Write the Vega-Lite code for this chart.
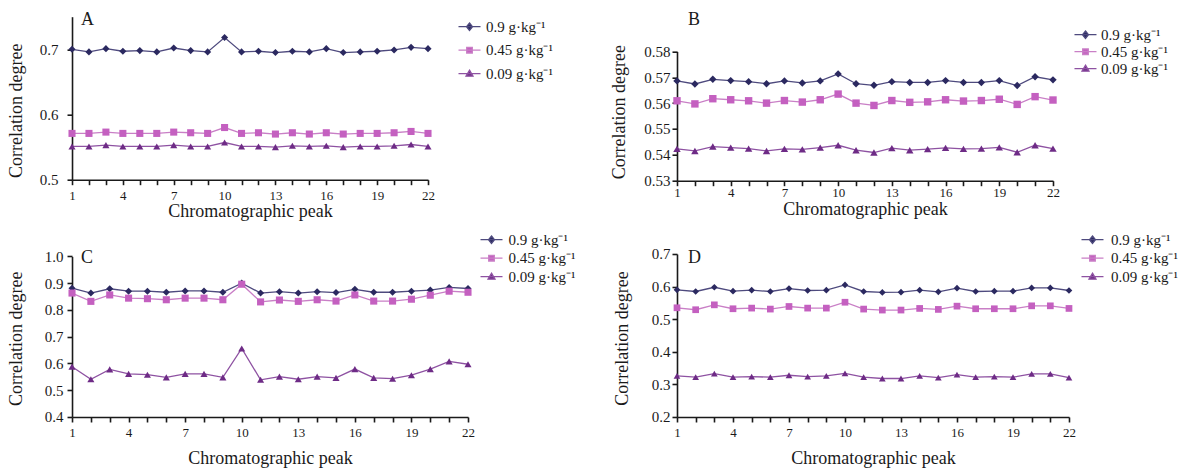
{
"$schema": "https://vega.github.io/schema/vega-lite/v6.json",
"padding": {"left": 6, "top": 10.7, "right": 0, "bottom": 0},
"data": {"values": [
{"panel":"A","peak":1,"high":0.700,"mid":0.571,"low":0.551},
{"panel":"A","peak":2,"high":0.696,"mid":0.571,"low":0.551},
{"panel":"A","peak":3,"high":0.701,"mid":0.573,"low":0.553},
{"panel":"A","peak":4,"high":0.697,"mid":0.571,"low":0.551},
{"panel":"A","peak":5,"high":0.698,"mid":0.571,"low":0.551},
{"panel":"A","peak":6,"high":0.696,"mid":0.571,"low":0.551},
{"panel":"A","peak":7,"high":0.702,"mid":0.573,"low":0.553},
{"panel":"A","peak":8,"high":0.698,"mid":0.572,"low":0.551},
{"panel":"A","peak":9,"high":0.696,"mid":0.571,"low":0.551},
{"panel":"A","peak":10,"high":0.718,"mid":0.580,"low":0.557},
{"panel":"A","peak":11,"high":0.696,"mid":0.571,"low":0.551},
{"panel":"A","peak":12,"high":0.697,"mid":0.572,"low":0.551},
{"panel":"A","peak":13,"high":0.695,"mid":0.570,"low":0.550},
{"panel":"A","peak":14,"high":0.697,"mid":0.572,"low":0.552},
{"panel":"A","peak":15,"high":0.696,"mid":0.570,"low":0.551},
{"panel":"A","peak":16,"high":0.701,"mid":0.572,"low":0.552},
{"panel":"A","peak":17,"high":0.695,"mid":0.570,"low":0.550},
{"panel":"A","peak":18,"high":0.696,"mid":0.571,"low":0.551},
{"panel":"A","peak":19,"high":0.697,"mid":0.571,"low":0.551},
{"panel":"A","peak":20,"high":0.699,"mid":0.572,"low":0.552},
{"panel":"A","peak":21,"high":0.703,"mid":0.574,"low":0.554},
{"panel":"A","peak":22,"high":0.701,"mid":0.571,"low":0.551},
{"panel":"B","peak":1,"high":0.5686,"mid":0.5609,"low":0.5423},
{"panel":"B","peak":2,"high":0.5674,"mid":0.5597,"low":0.5415},
{"panel":"B","peak":3,"high":0.5692,"mid":0.5617,"low":0.5432},
{"panel":"B","peak":4,"high":0.5687,"mid":0.5613,"low":0.5428},
{"panel":"B","peak":5,"high":0.5683,"mid":0.5609,"low":0.5424},
{"panel":"B","peak":6,"high":0.5675,"mid":0.5600,"low":0.5415},
{"panel":"B","peak":7,"high":0.5686,"mid":0.5610,"low":0.5423},
{"panel":"B","peak":8,"high":0.5678,"mid":0.5604,"low":0.5421},
{"panel":"B","peak":9,"high":0.5686,"mid":0.5613,"low":0.5428},
{"panel":"B","peak":10,"high":0.5713,"mid":0.5635,"low":0.5437},
{"panel":"B","peak":11,"high":0.5675,"mid":0.5600,"low":0.5418},
{"panel":"B","peak":12,"high":0.5669,"mid":0.5591,"low":0.5409},
{"panel":"B","peak":13,"high":0.5683,"mid":0.5610,"low":0.5426},
{"panel":"B","peak":14,"high":0.5680,"mid":0.5603,"low":0.5418},
{"panel":"B","peak":15,"high":0.5680,"mid":0.5605,"low":0.5422},
{"panel":"B","peak":16,"high":0.5687,"mid":0.5613,"low":0.5427},
{"panel":"B","peak":17,"high":0.5680,"mid":0.5608,"low":0.5423},
{"panel":"B","peak":18,"high":0.5680,"mid":0.5610,"low":0.5424},
{"panel":"B","peak":19,"high":0.5687,"mid":0.5615,"low":0.5429},
{"panel":"B","peak":20,"high":0.5668,"mid":0.5595,"low":0.5410},
{"panel":"B","peak":21,"high":0.5702,"mid":0.5625,"low":0.5437},
{"panel":"B","peak":22,"high":0.5690,"mid":0.5612,"low":0.5424},
{"panel":"C","peak":1,"high":0.881,"mid":0.863,"low":0.588},
{"panel":"C","peak":2,"high":0.863,"mid":0.832,"low":0.541},
{"panel":"C","peak":3,"high":0.879,"mid":0.856,"low":0.578},
{"panel":"C","peak":4,"high":0.870,"mid":0.844,"low":0.561},
{"panel":"C","peak":5,"high":0.870,"mid":0.842,"low":0.558},
{"panel":"C","peak":6,"high":0.866,"mid":0.838,"low":0.548},
{"panel":"C","peak":7,"high":0.871,"mid":0.844,"low":0.561},
{"panel":"C","peak":8,"high":0.871,"mid":0.844,"low":0.561},
{"panel":"C","peak":9,"high":0.866,"mid":0.838,"low":0.548},
{"panel":"C","peak":10,"high":0.900,"mid":0.896,"low":0.656},
{"panel":"C","peak":11,"high":0.863,"mid":0.830,"low":0.539},
{"panel":"C","peak":12,"high":0.868,"mid":0.837,"low":0.551},
{"panel":"C","peak":13,"high":0.863,"mid":0.832,"low":0.541},
{"panel":"C","peak":14,"high":0.868,"mid":0.838,"low":0.551},
{"panel":"C","peak":15,"high":0.865,"mid":0.833,"low":0.546},
{"panel":"C","peak":16,"high":0.877,"mid":0.856,"low":0.579},
{"panel":"C","peak":17,"high":0.866,"mid":0.833,"low":0.546},
{"panel":"C","peak":18,"high":0.866,"mid":0.833,"low":0.543},
{"panel":"C","peak":19,"high":0.870,"mid":0.840,"low":0.556},
{"panel":"C","peak":20,"high":0.874,"mid":0.855,"low":0.579},
{"panel":"C","peak":21,"high":0.884,"mid":0.870,"low":0.608},
{"panel":"C","peak":22,"high":0.880,"mid":0.866,"low":0.597},
{"panel":"D","peak":1,"high":0.590,"mid":0.535,"low":0.326},
{"panel":"D","peak":2,"high":0.585,"mid":0.529,"low":0.322},
{"panel":"D","peak":3,"high":0.598,"mid":0.544,"low":0.333},
{"panel":"D","peak":4,"high":0.586,"mid":0.532,"low":0.322},
{"panel":"D","peak":5,"high":0.589,"mid":0.534,"low":0.324},
{"panel":"D","peak":6,"high":0.585,"mid":0.531,"low":0.322},
{"panel":"D","peak":7,"high":0.594,"mid":0.539,"low":0.328},
{"panel":"D","peak":8,"high":0.588,"mid":0.534,"low":0.324},
{"panel":"D","peak":9,"high":0.589,"mid":0.534,"low":0.326},
{"panel":"D","peak":10,"high":0.605,"mid":0.552,"low":0.334},
{"panel":"D","peak":11,"high":0.585,"mid":0.531,"low":0.322},
{"panel":"D","peak":12,"high":0.582,"mid":0.528,"low":0.318},
{"panel":"D","peak":13,"high":0.583,"mid":0.528,"low":0.318},
{"panel":"D","peak":14,"high":0.589,"mid":0.533,"low":0.326},
{"panel":"D","peak":15,"high":0.584,"mid":0.530,"low":0.321},
{"panel":"D","peak":16,"high":0.595,"mid":0.540,"low":0.330},
{"panel":"D","peak":17,"high":0.585,"mid":0.532,"low":0.322},
{"panel":"D","peak":18,"high":0.586,"mid":0.532,"low":0.324},
{"panel":"D","peak":19,"high":0.586,"mid":0.532,"low":0.322},
{"panel":"D","peak":20,"high":0.596,"mid":0.541,"low":0.332},
{"panel":"D","peak":21,"high":0.596,"mid":0.541,"low":0.332},
{"panel":"D","peak":22,"high":0.588,"mid":0.533,"low":0.321}
]},
"columns": 2,
"spacing": {"row": 73.3, "column": 209},
"bounds": "flush",
"resolve": {
  "scale": {"x": "independent", "y": "independent", "fill": "independent", "stroke": "independent", "shape": "independent"},
  "legend": {"fill": "independent", "stroke": "independent", "shape": "independent"},
  "axis": {"x": "independent", "y": "independent"}
},
"concat": [
{
  "width": 356, "height": 163,
  "encoding": {
    "x": {"field": "peak", "type": "quantitative", "scale": {"domain": [1, 22], "nice": false, "zero": false},
      "axis": {"values": [1,2,3,4,5,6,7,8,9,10,11,12,13,14,15,16,17,18,19,20,21,22], "labelExpr": "(datum.value - 1) % 3 === 0 ? datum.label : ''", "title": "Chromatographic peak", "titleY": 37}},
    "y": {"field": "degree", "type": "quantitative", "scale": {"domain": [0.5, 0.75], "nice": false, "zero": false},
      "axis": {"values": [0.5, 0.6, 0.7], "format": ".1f", "title": "Correlation degree", "titleX": -47, "titleY": 93.6, "labelPadding": 9}}
  },
  "layer": [
    {"transform": [{"filter": "datum.panel === 'A'"}, {"fold": ["high", "mid", "low"], "as": ["conc", "degree"]}],
     "mark": {"type": "line", "strokeWidth": 1.3},
     "encoding": {"stroke": {"field": "conc", "type": "nominal", "scale": {"domain": ["high", "mid", "low"], "range": ["#4e4a7e", "#c97fc6", "#8e52a2"]},
         "legend": {"orient": "none", "legendX": 390, "legendY": 2.5, "title": null, "labelOffset": 9, "rowPadding": 7.5,
           "labelExpr": "datum.value === 'high' ? '0.9 g·kg⁻¹' : datum.value === 'mid' ? '0.45 g·kg⁻¹' : '0.09 g·kg⁻¹'",
           "encode": {"symbols": {"update": {
             "shape": {"signal": "datum.value === 'high' ? 'M-2.2,0H2.2M0,-0.74L0.6,0L0,0.74L-0.6,0Z' : datum.value === 'mid' ? 'M-2.2,0H2.2M-0.56,-0.56H0.56V0.56H-0.56Z' : 'M-2.2,0H2.2M0,-0.7L0.7,0.5H-0.7Z'"},
             "fill": {"signal": "datum.value === 'high' ? '#2b2960' : datum.value === 'mid' ? '#c460c0' : '#6e2b86'"},
             "strokeWidth": {"value": 1.3}, "opacity": {"value": 1}}}}}}}},
    {"transform": [{"filter": "datum.panel === 'A'"}, {"fold": ["high", "mid", "low"], "as": ["conc", "degree"]}],
     "mark": {"type": "point", "filled": true, "opacity": 1, "size": 50, "strokeWidth": 0},
     "encoding": {
       "shape": {"field": "conc", "type": "nominal", "scale": {"domain": ["low", "mid", "high"], "range": ["triangle-up", "square", "diamond"]}, "legend": null},
       "fill": {"field": "conc", "type": "nominal", "scale": {"domain": ["low", "mid", "high"], "range": ["#6e2b86", "#c460c0", "#2b2960"]}, "legend": null}
     }},
    {"data": {"values": [{"letter": "A", "peak": 1, "degree": 0.75}]},
     "mark": {"type": "text", "align": "left", "baseline": "alphabetic", "dx": 9, "dy": 8, "fontSize": 18, "color": "#1a1a1a"},
     "encoding": {"text": {"field": "letter", "type": "nominal"}}}
  ]
},
{
  "width": 376, "height": 164,
  "encoding": {
    "x": {"field": "peak", "type": "quantitative", "scale": {"domain": [1, 22], "nice": false, "zero": false},
      "axis": {"values": [1,2,3,4,5,6,7,8,9,10,11,12,13,14,15,16,17,18,19,20,21,22], "labelExpr": "(datum.value - 1) % 3 === 0 ? datum.label : ''", "title": "Chromatographic peak", "titleY": 34, "labelPadding": 1}},
    "y": {"field": "degree", "type": "quantitative", "scale": {"domain": [0.53, 0.58], "range": [164, 34.7], "nice": false, "zero": false},
      "axis": {"values": [0.53, 0.54, 0.55, 0.56, 0.57, 0.58], "format": ".2f", "title": "Correlation degree", "titleX": -48, "titleY": 95, "labelPadding": 2}}
  },
  "layer": [
    {"transform": [{"filter": "datum.panel === 'B'"}, {"fold": ["high", "mid", "low"], "as": ["conc", "degree"]}],
     "mark": {"type": "line", "strokeWidth": 1.3},
     "encoding": {"stroke": {"field": "conc", "type": "nominal", "scale": {"domain": ["high", "mid", "low"], "range": ["#4e4a7e", "#c97fc6", "#8e52a2"]},
         "legend": {"orient": "none", "legendX": 401, "legendY": 10.5, "title": null, "labelOffset": 8, "rowPadding": 1,
           "labelExpr": "datum.value === 'high' ? '0.9 g·kg⁻¹' : datum.value === 'mid' ? '0.45 g·kg⁻¹' : '0.09 g·kg⁻¹'",
           "encode": {"symbols": {"update": {
             "shape": {"signal": "datum.value === 'high' ? 'M-2.2,0H2.2M0,-0.74L0.6,0L0,0.74L-0.6,0Z' : datum.value === 'mid' ? 'M-2.2,0H2.2M-0.56,-0.56H0.56V0.56H-0.56Z' : 'M-2.2,0H2.2M0,-0.7L0.7,0.5H-0.7Z'"},
             "fill": {"signal": "datum.value === 'high' ? '#2b2960' : datum.value === 'mid' ? '#c460c0' : '#6e2b86'"},
             "strokeWidth": {"value": 1.3}, "opacity": {"value": 1}}}}}}}},
    {"transform": [{"filter": "datum.panel === 'B'"}, {"fold": ["high", "mid", "low"], "as": ["conc", "degree"]}],
     "mark": {"type": "point", "filled": true, "opacity": 1, "size": 55, "strokeWidth": 0},
     "encoding": {
       "shape": {"field": "conc", "type": "nominal", "scale": {"domain": ["low", "mid", "high"], "range": ["triangle-up", "square", "diamond"]}, "legend": null},
       "fill": {"field": "conc", "type": "nominal", "scale": {"domain": ["low", "mid", "high"], "range": ["#6e2b86", "#c460c0", "#2b2960"]}, "legend": null}
     }},
    {"data": {"values": [{"letter": "B", "peak": 1, "degree": 0.58}]},
     "mark": {"type": "text", "align": "left", "baseline": "alphabetic", "dx": 11, "dy": -26.7, "fontSize": 18, "color": "#1a1a1a"},
     "encoding": {"text": {"field": "letter", "type": "nominal"}}}
  ]
},
{
  "width": 396, "height": 163,
  "encoding": {
    "x": {"field": "peak", "type": "quantitative", "scale": {"domain": [1, 22], "nice": false, "zero": false},
      "axis": {"values": [1,2,3,4,5,6,7,8,9,10,11,12,13,14,15,16,17,18,19,20,21,22], "labelExpr": "(datum.value - 1) % 3 === 0 ? datum.label : ''", "title": "Chromatographic peak", "titleY": 47}},
    "y": {"field": "degree", "type": "quantitative", "scale": {"domain": [0.4, 1.0], "range": [163, 2.4], "nice": false, "zero": false},
      "axis": {"values": [0.4, 0.5, 0.6, 0.7, 0.8, 0.9, 1.0], "format": ".1f", "title": "Correlation degree", "titleX": -47, "titleY": 84.3, "labelPadding": 4}}
  },
  "layer": [
    {"transform": [{"filter": "datum.panel === 'C'"}, {"fold": ["high", "mid", "low"], "as": ["conc", "degree"]}],
     "mark": {"type": "line", "strokeWidth": 1.3},
     "encoding": {"stroke": {"field": "conc", "type": "nominal", "scale": {"domain": ["high", "mid", "low"], "range": ["#4e4a7e", "#c97fc6", "#8e52a2"]},
         "legend": {"orient": "none", "legendX": 412, "legendY": -21.8, "title": null, "labelOffset": 9.5, "rowPadding": 2.5,
           "labelExpr": "datum.value === 'high' ? '0.9 g·kg⁻¹' : datum.value === 'mid' ? '0.45 g·kg⁻¹' : '0.09 g·kg⁻¹'",
           "encode": {"symbols": {"update": {
             "shape": {"signal": "datum.value === 'high' ? 'M-2.2,0H2.2M0,-0.74L0.6,0L0,0.74L-0.6,0Z' : datum.value === 'mid' ? 'M-2.2,0H2.2M-0.56,-0.56H0.56V0.56H-0.56Z' : 'M-2.2,0H2.2M0,-0.7L0.7,0.5H-0.7Z'"},
             "fill": {"signal": "datum.value === 'high' ? '#2b2960' : datum.value === 'mid' ? '#c460c0' : '#6e2b86'"},
             "strokeWidth": {"value": 1.3}, "opacity": {"value": 1}}}}}}}},
    {"transform": [{"filter": "datum.panel === 'C'"}, {"fold": ["high", "mid", "low"], "as": ["conc", "degree"]}],
     "mark": {"type": "point", "filled": true, "opacity": 1, "size": 50, "strokeWidth": 0},
     "encoding": {
       "shape": {"field": "conc", "type": "nominal", "scale": {"domain": ["low", "mid", "high"], "range": ["triangle-up", "square", "diamond"]}, "legend": null},
       "fill": {"field": "conc", "type": "nominal", "scale": {"domain": ["low", "mid", "high"], "range": ["#6e2b86", "#c460c0", "#2b2960"]}, "legend": null}
     }},
    {"data": {"values": [{"letter": "C", "peak": 1, "degree": 1.0}]},
     "mark": {"type": "text", "align": "left", "baseline": "alphabetic", "dx": 9, "dy": 6.6, "fontSize": 18, "color": "#1a1a1a"},
     "encoding": {"text": {"field": "letter", "type": "nominal"}}}
  ]
},
{
  "width": 392, "height": 163,
  "encoding": {
    "x": {"field": "peak", "type": "quantitative", "scale": {"domain": [1, 22], "nice": false, "zero": false},
      "axis": {"values": [1,2,3,4,5,6,7,8,9,10,11,12,13,14,15,16,17,18,19,20,21,22], "labelExpr": "(datum.value - 1) % 3 === 0 ? datum.label : ''", "title": "Chromatographic peak", "titleY": 47}},
    "y": {"field": "degree", "type": "quantitative", "scale": {"domain": [0.2, 0.7], "nice": false, "zero": false},
      "axis": {"values": [0.2, 0.3, 0.4, 0.5, 0.6, 0.7], "format": ".1f", "title": "Correlation degree", "titleX": -45, "titleY": 84, "labelPadding": 2}}
  },
  "layer": [
    {"transform": [{"filter": "datum.panel === 'D'"}, {"fold": ["high", "mid", "low"], "as": ["conc", "degree"]}],
     "mark": {"type": "line", "strokeWidth": 1.3},
     "encoding": {"stroke": {"field": "conc", "type": "nominal", "scale": {"domain": ["high", "mid", "low"], "range": ["#4e4a7e", "#c97fc6", "#8e52a2"]},
         "legend": {"orient": "none", "legendX": 408, "legendY": -21.8, "title": null, "labelOffset": 11, "rowPadding": 2.5,
           "labelExpr": "datum.value === 'high' ? '0.9 g·kg⁻¹' : datum.value === 'mid' ? '0.45 g·kg⁻¹' : '0.09 g·kg⁻¹'",
           "encode": {"symbols": {"update": {
             "shape": {"signal": "datum.value === 'high' ? 'M-2.2,0H2.2M0,-0.74L0.6,0L0,0.74L-0.6,0Z' : datum.value === 'mid' ? 'M-2.2,0H2.2M-0.56,-0.56H0.56V0.56H-0.56Z' : 'M-2.2,0H2.2M0,-0.7L0.7,0.5H-0.7Z'"},
             "fill": {"signal": "datum.value === 'high' ? '#2b2960' : datum.value === 'mid' ? '#c460c0' : '#6e2b86'"},
             "strokeWidth": {"value": 1.3}, "opacity": {"value": 1}}}}}}}},
    {"transform": [{"filter": "datum.panel === 'D'"}, {"fold": ["high", "mid", "low"], "as": ["conc", "degree"]}],
     "mark": {"type": "point", "filled": true, "opacity": 1, "size": 45, "strokeWidth": 0},
     "encoding": {
       "shape": {"field": "conc", "type": "nominal", "scale": {"domain": ["low", "mid", "high"], "range": ["triangle-up", "square", "diamond"]}, "legend": null},
       "fill": {"field": "conc", "type": "nominal", "scale": {"domain": ["low", "mid", "high"], "range": ["#6e2b86", "#c460c0", "#2b2960"]}, "legend": null}
     }},
    {"data": {"values": [{"letter": "D", "peak": 1, "degree": 0.7}]},
     "mark": {"type": "text", "align": "left", "baseline": "alphabetic", "dx": 11, "dy": 9, "fontSize": 18, "color": "#1a1a1a"},
     "encoding": {"text": {"field": "letter", "type": "nominal"}}}
  ]
}
],
"config": {
  "font": "Liberation Serif",
  "background": "white",
  "view": {"stroke": null},
  "axis": {"grid": false, "domainColor": "#1a1a1a", "domainWidth": 1.6, "tickColor": "#1a1a1a", "tickWidth": 1.6, "tickSize": 5,
    "labelColor": "#1a1a1a", "titleColor": "#1a1a1a", "titleFontWeight": "normal", "titleFontSize": 18,
    "labelFont": "Liberation Serif", "titleFont": "Liberation Serif"},
  "axisX": {"labelFontSize": 13, "labelPadding": 5, "labelFlush": false, "labelOverlap": false, "titleBaseline": "alphabetic"},
  "axisY": {"labelFontSize": 15, "labelPadding": 4},
  "legend": {"labelFont": "Liberation Serif", "labelFontSize": 15, "labelColor": "#1a1a1a", "padding": 0, "symbolSize": 100}
}
}
